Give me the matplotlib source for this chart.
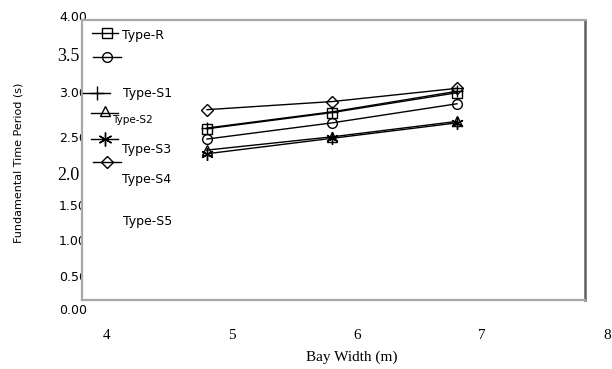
import matplotlib.pyplot as plt
from matplotlib.lines import Line2D
from matplotlib.patches import Rectangle
from matplotlib.transforms import blended_transform_factory, offset_copy

# data
bay_width = [4.8, 5.8, 6.8]
type_r = [2.48, 2.70, 2.97]
type_o = [2.34, 2.56, 2.82]
type_s1 = [2.49, 2.71, 2.99]
type_s2 = [2.19, 2.37, 2.58]
type_s3 = [2.14, 2.35, 2.56]
type_s4 = [2.74, 2.85, 3.03]

xtick_values = [4, 5, 6, 7, 8]
ytick_values = [4.0, 3.5, 3.0, 2.5, 2.0, 1.5, 1.0, 0.5, 0.0]
ytick_labels = ['4.00', '3.5', '3.00', '2.50', '2.0', '1.50', '1.00', '0.50', '0.00']

series = [
    (type_r, 's'),
    (type_o, 'o'),
    (type_s1, '+'),
    (type_s2, '^'),
    (type_s3, (6, 2, 0)),
    (type_s4, 'D'),
]

W, H = 612, 369


def fx(px):
    return px / W


def fy(py):
    return 1 - py / H


def main():
    fig = plt.figure(figsize=(6.12, 3.69), dpi=100)
    ax = fig.add_axes([fx(82), fy(311), fx(612 - 82), fy(20) - fy(311)])
    ax.set_xlim(3.8, 3.8 + 530 / 125)
    ax.set_ylim(0, 3.96)
    ax.patch.set_visible(False)
    ax.set_axisbelow(True)

    box_right = 3.8 + 503 / 125
    box_bottom = 11 / 73.5
    # white box that hides the tick labels running into it
    ax.add_patch(Rectangle((3.8, box_bottom), box_right - 3.8, 3.96 - box_bottom,
                           facecolor='white', edgecolor='none', zorder=1))

    for vals, m in series:
        ms = {'+': 9, 'D': 6, (6, 2, 0): 9}.get(m, 7)
        ax.plot(bay_width, vals, color='black', lw=1, marker=m, ms=ms,
                mfc='none', mec='black', mew=1, zorder=2)

    # spines
    ax.spines['bottom'].set_position(('data', box_bottom))
    ax.spines['bottom'].set_bounds(3.8, box_right)
    ax.spines['top'].set_bounds(3.8, box_right)
    ax.spines['left'].set_bounds(box_bottom, 3.96)
    ax.spines['right'].set_position(('data', box_right))
    ax.spines['right'].set_bounds(box_bottom, 3.96)
    for s in ['left', 'bottom', 'top']:
        ax.spines[s].set_color('#a8a8a8')
        ax.spines[s].set_linewidth(1.6)
    ax.spines['right'].set_color('#606060')
    ax.spines['right'].set_linewidth(1.8)

    ax.set_xticks(xtick_values)
    ax.set_xticklabels([str(v) for v in xtick_values],
                       fontfamily='Liberation Serif', fontsize=11)
    ax.tick_params(axis='x', length=0, pad=21)
    ax.set_yticks([])

    # y tick labels, pasted a few pixels below where they belong
    trans = blended_transform_factory(fig.transFigure, ax.transData)
    drop = [0, 3, 2.5, 11, 11, 6, 3.5, 3, 0]
    for v, lab, d in zip(ytick_values, ytick_labels, drop):
        big = lab in ('3.5', '2.0')
        t = offset_copy(trans, fig=fig, x=0, y=-d * 0.72, units='points')
        ax.text(fx(80 if big else 87), v, lab, transform=t, ha='right', va='center',
                fontsize=13 if big else 9,
                fontfamily='Liberation Serif' if big else 'DejaVu Sans',
                clip_on=False, zorder=0.5 if not big else 3)

    fig.text(fx(352), fy(357), 'Bay Width (m)', ha='center', va='center',
             fontfamily='Liberation Serif', fontsize=11)
    fig.text(fx(19), fy(163), 'Fundamental Time Period (s)', ha='center', va='center',
             rotation=90, fontsize=8)

    # scattered legend entries
    legend_items = [
        (92, 118, 33, 107, 33, 's', 7, 'Type-R', 122, 35, 9),
        (93, 121, 57, 107, 57, 'o', 7, None, 0, 0, 0),
        (83, 110, 93, 97, 93, '+', 10, 'Type-S1', 123, 93, 9),
        (91, 118, 113, 105, 111, '^', 7, 'Type-S2', 112, 120, 7.5),
        (91, 118, 139, 105, 139, (6, 2, 0), 10, 'Type-S3', 122, 149, 9),
        (93, 121, 162, 107, 162, 'D', 6, 'Type-S4', 122, 180, 9),
        (None, None, None, None, None, None, 0, 'Type-S5', 123, 221, 9),
    ]
    for x0, x1, ly, mx, my, m, ms, lab, tx, ty, fs in legend_items:
        if x0 is not None:
            fig.add_artist(Line2D([fx(x0), fx(x1)], [fy(ly), fy(ly)],
                                  transform=fig.transFigure, color='black', lw=1))
            fig.add_artist(Line2D([fx(mx)], [fy(my)], transform=fig.transFigure,
                                  marker=m, ms=ms, mfc='none', mec='black', mew=1,
                                  ls='none'))
        if lab:
            fig.text(fx(tx), fy(ty), lab, ha='left', va='center', fontsize=fs)

    fig.savefig('out.png', dpi=100)


if __name__ == "__main__":
    main()
